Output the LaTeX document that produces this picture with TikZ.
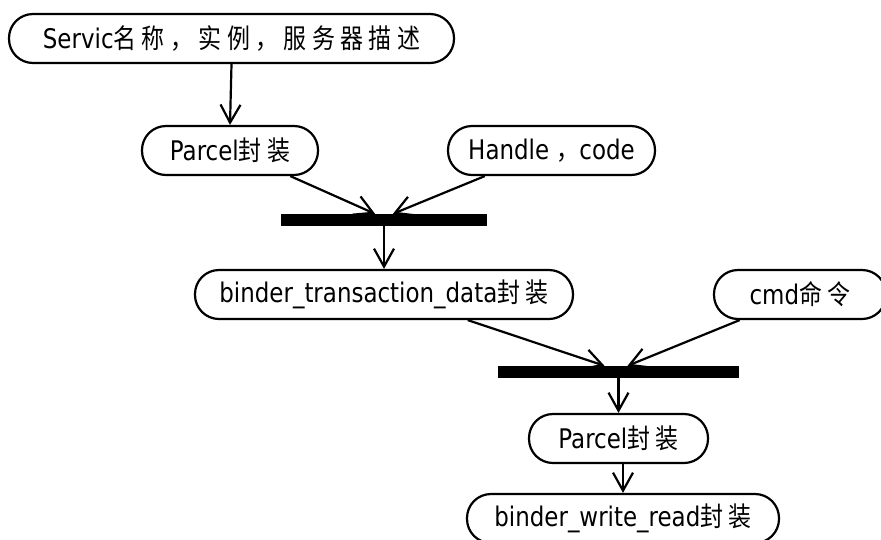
\documentclass[tikz,border=0pt]{standalone}
\usepackage{fontspec}
\setmainfont{DejaVu Sans}[FakeStretch=0.85]
\newfontfamily\cjk{Noto Sans CJK SC}[FakeStretch=0.85,LetterSpace=20]
\usetikzlibrary{arrows.meta}
\begin{document}
\begin{tikzpicture}[x=1pt,y=-1pt,
    act/.style={draw, line width=2.2pt, rounded corners=24pt, minimum height=49pt, inner xsep=4pt, inner ysep=0pt, font=\fontsize{27}{32}\selectfont},
    joinbar/.style={fill=black, minimum height=12pt, inner sep=0pt},
    flow/.style={line width=2.2pt, -{Straight Barb[length=18pt,width=20pt]}}]
    \useasboundingbox (0,0) rectangle (881,539);
    \node[act, minimum width=445pt] (service) at (231.5,38.5) {Servic{\cjk 名称，实例，服务器描述}};
    \node[act, minimum width=176pt] (parcelA) at (230,150.5) {Parcel{\cjk 封装}};
    \node[act, minimum width=207pt] (handle) at (551.5,150.5) {Handle {\cjk ，}code};
    \node[joinbar, minimum width=206pt] (joinA) at (384,220) {};
    \node[act, minimum width=378pt] (tdata) at (384,294.5) {binder\_transaction\_data{\cjk 封装}};
    \node[act, minimum width=172pt] (cmd) at (800,294.5) {cmd{\cjk 命令}};
    \node[joinbar, minimum width=241pt] (joinB) at (618.5,372) {};
    \node[act, minimum width=179pt] (parcelB) at (618.5,438.5) {Parcel{\cjk 封装}};
    \node[act, minimum width=312pt] (bwr) at (623,518.5) {binder\_write\_read{\cjk 封装}};
    \draw[flow] (service.south) -- (parcelA.north);
    \draw[flow] (parcelA.-23) -- ([xshift=-9pt]joinA.north);
    \draw[flow] (handle.201) -- ([xshift=9pt]joinA.north);
    \draw[flow] (joinA.south) -- (tdata.north);
    \draw[flow] (tdata.-17.5) -- ([xshift=-14pt]joinB.north);
    \draw[flow] (cmd.203) -- ([xshift=9pt]joinB.north);
    \draw[flow] (joinB.south) -- (parcelB.north);
    \draw[flow] (bwr.north |- parcelB.south) -- (bwr.north);
\end{tikzpicture}
\end{document}
